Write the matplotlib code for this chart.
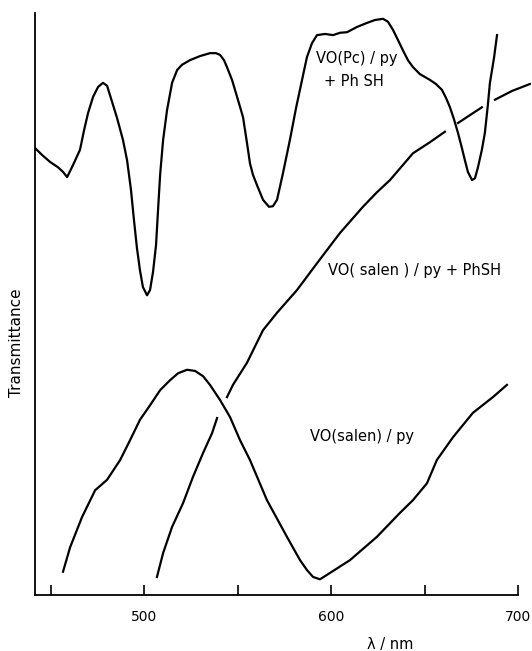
import numpy as np
import matplotlib
matplotlib.use("Agg")
import matplotlib.pyplot as plt

# VO(Pc)/py + PhSH
pc_nm = [441.4, 445.2, 449.5, 453.7, 456.4, 458.6, 461.8, 465.5, 467.7, 469.8,
         472.5, 475.2, 477.8, 480.0, 482.7, 485.3, 488.5, 490.7, 492.8, 494.4,
         496.0, 497.6, 499.2, 501.4, 503.0, 504.6, 506.2, 507.3, 508.4, 510.0,
         512.1, 514.8, 517.5, 520.1, 524.4, 529.8, 535.1, 538.3, 540.5, 542.6,
         544.2, 546.9, 549.6, 552.8, 554.9, 556.5, 558.1, 560.3, 563.5, 566.7,
         568.8, 571.0, 574.2, 577.9, 581.2, 584.4, 587.0, 589.7, 592.4, 596.7,
         601.0, 604.7, 608.5, 613.8, 619.2, 623.5, 627.8, 630.4, 633.1, 635.7,
         638.4, 641.1, 643.8, 647.5, 652.9, 656.1, 659.3, 661.5, 663.6, 665.7,
         667.9, 670.0, 671.6, 673.2, 675.4, 677.0, 678.6, 680.7, 682.3, 683.9,
         685.0, 687.2, 688.8]
pc_T = [76.8, 75.6, 74.4, 73.5, 72.7, 71.8, 73.9, 76.5, 79.9, 82.8,
        85.6, 87.3, 88.0, 87.5, 84.7, 82.0, 78.2, 74.7, 69.6, 64.4,
        59.6, 55.8, 52.9, 51.5, 52.4, 55.5, 60.1, 66.2, 72.2, 78.2,
        83.3, 88.0, 90.2, 91.1, 91.9, 92.6, 93.1, 93.1, 92.8, 91.9,
        90.7, 88.5, 85.6, 82.1, 77.7, 74.2, 72.2, 70.4, 67.9, 66.7,
        66.8, 67.9, 72.5, 78.2, 83.7, 88.5, 92.4, 94.8, 96.2, 96.4,
        96.2, 96.6, 96.7, 97.6, 98.3, 98.8, 99.0, 98.5, 97.1, 95.4,
        93.6, 91.9, 90.7, 89.5, 88.5, 87.8, 86.8, 85.4, 83.8, 81.8,
        79.4, 76.8, 74.7, 72.7, 71.3, 71.6, 73.5, 76.5, 79.4, 84.2,
        88.0, 92.3, 96.2]

# VO(salen)/py + PhSH (pen breaks where it crosses the other traces)
sp_nm = [506.7, 510.0, 514.8, 520.7, 526.0, 531.4, 536.2, 538.9, np.nan,
         544.2, 547.4, 554.9, 563.5, 571.0, 581.7, 592.4, 604.7, 617.0, 624.5,
         631.5, 643.8, 652.9, 660.9, np.nan,
         667.9, 680.7, np.nan,
         687.7, 696.8, 706.4]
sp_T = [3.1, 7.2, 11.7, 15.8, 20.3, 24.4, 27.8, 30.4, np.nan,
        34.0, 36.1, 39.9, 45.5, 48.5, 52.4, 57.0, 62.2, 66.7, 69.2,
        71.3, 75.9, 77.8, 79.6, np.nan,
        81.1, 83.8, np.nan,
        85.1, 86.6, 87.8]

# VO(salen)/py
s_nm = [456.4, 460.2, 466.6, 473.6, 480.0, 487.0, 492.3, 497.6, 503.0, 508.4,
        513.7, 518.0, 522.8, 527.1, 531.4, 535.1, 540.5, 545.8, 551.2, 556.5,
        565.6, 576.3, 583.3, 587.0, 590.3, 594.0, 599.4, 610.1, 624.5, 636.8,
        643.8, 651.3, 656.6, 665.2, 675.9, 686.6, 694.1]
s_T = [4.0, 8.2, 13.4, 18.0, 19.8, 23.2, 26.6, 30.1, 32.6, 35.2,
       36.9, 38.1, 38.7, 38.5, 37.6, 36.1, 33.5, 30.6, 26.6, 23.2,
       16.3, 10.0, 6.0, 4.3, 3.1, 2.7, 3.8, 6.0, 10.0, 14.1,
       16.3, 19.2, 23.2, 27.1, 31.3, 34.0, 36.1]

major_ticks = [500, 600, 700]
minor_ticks = [450, 550, 650]

plt.rcParams['font.family'] = ['DejaVu Sans']

fig = plt.figure(figsize=(5.32, 6.51), dpi=100)
ax = fig.add_axes([35 / 532, 1 - 595 / 651, 496 / 532, 582 / 651])

lw = 1.6
ax.plot(pc_nm, pc_T, color='black', lw=lw)
ax.plot(sp_nm, sp_T, color='black', lw=lw)
ax.plot(s_nm, s_T, color='black', lw=lw)

ax.set_xlim(441.4, 707.0)
ax.set_ylim(0, 100)

for s in ['top', 'right']:
    ax.spines[s].set_visible(False)
for s in ['left', 'bottom']:
    ax.spines[s].set_linewidth(1.3)
ax.spines['bottom'].set_bounds(441.4, 700)

ax.set_yticks([])
ax.set_xticks(major_ticks)
ax.set_xticks(minor_ticks, minor=True)
ax.tick_params(axis='x', which='both', direction='in', length=7, width=1.2,
               labelsize=10, pad=11)

fs = 10.5
fig.text(357 / 532, 1 - 58 / 651, "VO(Pc) / py", fontsize=fs, ha='center', va='center')
fig.text(354 / 532, 1 - 81 / 651, "+ Ph SH", fontsize=fs, ha='center', va='center')
fig.text(415 / 532, 1 - 270 / 651, "VO( salen ) / py + PhSH", fontsize=fs,
         ha='center', va='center')
fig.text(362 / 532, 1 - 437 / 651, "VO(salen) / py", fontsize=fs,
         ha='center', va='center')
fig.text(17 / 532, 1 - 343 / 651, "Transmittance", fontsize=11, rotation=90,
         ha='center', va='center')
fig.text(390 / 532, 1 - 645 / 651, "λ / nm", fontsize=10.5, ha='center', va='center')

fig.savefig("out.png", dpi=100)
